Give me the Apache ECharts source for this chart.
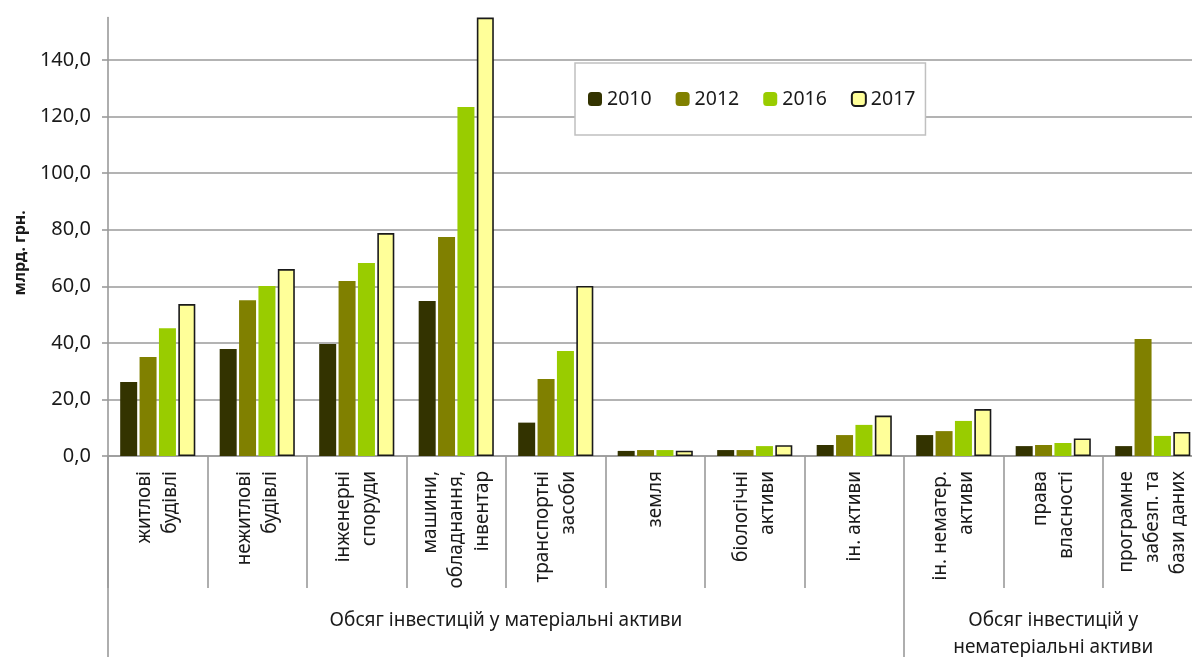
<!DOCTYPE html>
<html>
<head>
<meta charset="utf-8">
<script src="https://cdn.jsdelivr.net/npm/echarts@6/dist/echarts.min.js"></script>
<style>
  html, body { margin: 0; padding: 0; background: #fff; }
  #chart { width: 1192px; height: 657px; }
</style>
</head>
<body>
<div id="chart"></div>
<script>
// Investment volumes by asset type, bn UAH
const categories = [
  'житлові\nбудівлі',
  'нежитлові\nбудівлі',
  'інженерні\nспоруди',
  'машини,\nобладнання,\nінвентар',
  'транспортні\nзасоби',
  'земля',
  'біологічні\nактиви',
  'ін. активи',
  'ін. нематер.\nактиви',
  'права\nвласності',
  'програмне\nзабезп. та\nбази даних'
];
const groupLabels = ['Обсяг інвестицій у матеріальні активи', 'Обсяг інвестицій у\nнематеріальні активи'];
const groupSizes = [8, 3];
const years = ['2010', '2012', '2016', '2017'];

const v2010 = [26.2, 37.8, 39.6, 54.8, 11.8, 1.8, 2.1, 3.9, 7.4, 3.5, 3.5];
const v2012 = [35.0, 55.1, 61.9, 77.4, 27.2, 2.1, 2.1, 7.4, 8.8, 3.9, 41.4];
const v2016 = [45.2, 60.1, 68.2, 123.4, 37.1, 2.1, 3.5, 11.0, 12.4, 4.6, 7.1];
const v2017 = [53.7, 66.1, 78.8, 155.0, 60.1, 1.9, 3.8, 14.3, 16.6, 6.2, 8.5];

const yMin = 0, yMax = 155, yStep = 20;
const yAxisName = 'млрд. грн.';

const seriesValues = [v2010, v2012, v2016, v2017];
const colors = ['#333300', '#808000', '#99cc00', '#ffff99'];
const FONT = '"Noto Sans", "DejaVu Sans", sans-serif';
const GRID = '#9a9a9a';
const TEXT = '#1a1a1a';
const TICK_LEN = 132;

const chart = echarts.init(document.getElementById('chart'), null, { renderer: 'canvas' });

const series = years.map((y, i) => ({
  name: y,
  type: 'bar',
  data: seriesValues[i],
  barWidth: 17,
  barGap: '14%',
  itemStyle: i === 3
    ? { color: colors[i], borderColor: '#1a1a1a', borderWidth: 1.6 }
    : { color: colors[i] }
}));

chart.setOption({
  animation: false,
  backgroundColor: '#fff',
  // the last category runs past the right edge of the canvas
  grid: { left: 108, width: 1094.5, top: 17.6, bottom: 201, containLabel: false, outerBoundsMode: 'none' },
  legend: {
    data: years,
    left: 575,
    top: 63,
    width: 347,
    padding: [26, 10, 26, 13],
    itemGap: 24,
    itemWidth: 14,
    itemHeight: 14,
    backgroundColor: '#fff',
    borderColor: '#c0c0c0',
    borderWidth: 1.5,
    textStyle: { fontFamily: FONT, fontSize: 19.5, color: TEXT }
  },
  xAxis: {
    type: 'category',
    data: categories,
    boundaryGap: true,
    axisLine: { show: true, lineStyle: { color: GRID, width: 1.6 } },
    axisTick: { show: true, interval: 0, length: TICK_LEN, lineStyle: { color: GRID, width: 1.6 } },
    axisLabel: {
      interval: 0,
      rotate: 90,
      margin: 15,
      fontFamily: FONT,
      fontSize: 19,
      lineHeight: 26,
      color: TEXT
    }
  },
  yAxis: {
    type: 'value',
    min: yMin,
    max: yMax,
    interval: yStep,
    name: yAxisName,
    nameLocation: 'middle',
    nameGap: 80,
    nameTextStyle: { fontFamily: FONT, fontSize: 16, fontWeight: 'bold', color: TEXT, padding: [0, 32, 0, 0] },
    axisLine: { show: true, lineStyle: { color: GRID, width: 1.6 } },
    axisTick: { show: true, length: 6, lineStyle: { color: GRID, width: 1.6 } },
    axisLabel: {
      showMaxLabel: false,
      margin: 17,
      fontFamily: FONT,
      fontSize: 20,
      color: TEXT,
      formatter: v => v.toFixed(1).replace('.', ',')
    },
    splitLine: { show: true, showMaxLine: false, lineStyle: { color: GRID, width: 1.6 } }
  },
  series: series
});

// Second category level: group separators and group captions, positioned from the axes
function drawGroups() {
  const c0 = chart.convertToPixel({ xAxisIndex: 0 }, 0);
  const c1 = chart.convertToPixel({ xAxisIndex: 0 }, 1);
  const w = c1 - c0;
  const base = chart.convertToPixel({ yAxisIndex: 0 }, 0);
  const bottom = chart.getHeight() + 2;
  const elements = [];
  let start = 0;
  const edgeX = c0 - w / 2;
  elements.push({
    type: 'line', silent: true,
    shape: { x1: edgeX, y1: base, x2: edgeX, y2: bottom },
    style: { stroke: GRID, lineWidth: 1.6 }
  });
  groupSizes.forEach((n, gi) => {
    const left = c0 + (start - 0.5) * w;
    const right = c0 + (start + n - 0.5) * w;
    if (gi > 0) {
      elements.push({
        type: 'line', silent: true,
        shape: { x1: left, y1: base + TICK_LEN, x2: left, y2: bottom },
        style: { stroke: GRID, lineWidth: 1.6 }
      });
    }
    elements.push({
      type: 'text', silent: true,
      x: (left + right) / 2,
      y: base + TICK_LEN + 19,
      style: {
        text: groupLabels[gi],
        fontFamily: FONT, fontSize: 19, lineHeight: 27,
        fill: TEXT, align: 'center', verticalAlign: 'top'
      }
    });
    start += n;
  });
  chart.setOption({ graphic: elements });
}
drawGroups();
</script>
</body>
</html>
